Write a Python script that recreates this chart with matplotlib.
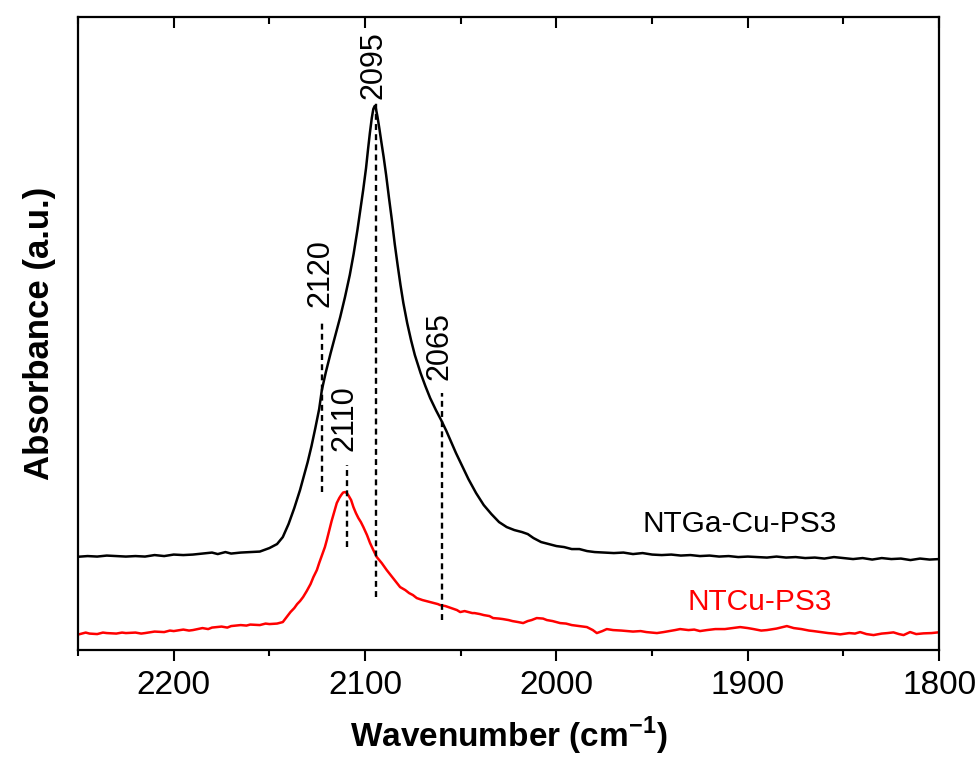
import matplotlib
matplotlib.use("Agg")
import matplotlib.pyplot as plt
from matplotlib.ticker import MultipleLocator

plt.rcParams['font.family'] = ['Liberation Sans', 'DejaVu Sans']

# NTGa-Cu-PS3 (black)
wn_black = [2250, 2245, 2240, 2235, 2230, 2225, 2220, 2215, 2210, 2205, 2200, 2195, 2190,
            2185, 2180, 2177, 2173, 2170, 2165, 2160, 2155, 2150, 2146, 2143, 2140, 2137,
            2134, 2130, 2128, 2126, 2124, 2122.6, 2120.5, 2118, 2115.5, 2113, 2110.5, 2108,
            2106, 2104, 2102.5, 2101, 2099.5, 2098.5, 2097.5, 2096.5, 2095.7, 2095, 2094.3,
            2093.5, 2092.5, 2091.5, 2090.3, 2089, 2087.5, 2086, 2084.5, 2083, 2081.5, 2080,
            2078, 2076, 2074, 2071, 2068.5, 2066, 2063, 2060, 2057.5, 2055, 2052.5, 2050,
            2046, 2042, 2038, 2034, 2030, 2026, 2022, 2018, 2015, 2012, 2008, 2004, 2000,
            1996, 1992, 1988, 1984, 1980, 1975, 1970, 1965, 1960, 1955, 1950, 1945, 1940,
            1935, 1930, 1925, 1920, 1915, 1910, 1905, 1900, 1895, 1890, 1885, 1880, 1875,
            1870, 1865, 1860, 1855, 1850, 1845, 1840, 1835, 1830, 1825, 1820, 1815, 1810,
            1805, 1800]
abs_black = [0.933, 0.94, 0.935, 0.945, 0.94, 0.935, 0.94, 0.935, 0.95, 0.94, 0.955, 0.95, 0.955,
             0.965, 0.975, 0.96, 0.98, 0.965, 0.975, 0.98, 0.985, 1.02, 1.06, 1.13, 1.26, 1.42,
             1.60, 1.88, 2.04, 2.22, 2.41, 2.60, 2.78, 2.97, 3.15, 3.33, 3.53, 3.75,
             3.96, 4.20, 4.40, 4.60, 4.82, 5.00, 5.17, 5.32, 5.41, 5.44, 5.41,
             5.33, 5.21, 5.08, 4.93, 4.75, 4.52, 4.30, 4.06, 3.85, 3.65, 3.47,
             3.27, 3.10, 2.95, 2.77, 2.64, 2.52, 2.40, 2.29, 2.19, 2.08, 1.97, 1.87,
             1.71, 1.57, 1.45, 1.36, 1.28, 1.23, 1.20, 1.18, 1.16, 1.12, 1.08, 1.06, 1.04,
             1.03, 1.01, 1.01, 0.99, 0.98, 0.975, 0.97, 0.975, 0.96, 0.97, 0.955, 0.95, 0.955,
             0.945, 0.95, 0.94, 0.945, 0.935, 0.94, 0.93, 0.935, 0.93, 0.925, 0.935, 0.925, 0.93,
             0.92, 0.925, 0.915, 0.93, 0.92, 0.91, 0.92, 0.905, 0.92, 0.91, 0.915, 0.90, 0.915,
             0.905, 0.91]

# NTCu-PS3 (red)
wn_red = [2249, 2246, 2244, 2240, 2237, 2235, 2230, 2227, 2225, 2220, 2217, 2215, 2210, 2205,
          2202, 2200, 2195, 2192, 2190, 2185, 2182, 2180, 2175, 2172, 2170, 2165, 2162, 2160,
          2155, 2152, 2150, 2146, 2144, 2143, 2141, 2139, 2137, 2135.5, 2134, 2132.4, 2130.5,
          2128.5, 2127, 2125.2, 2124, 2122.5, 2121, 2120, 2118.7, 2117.5, 2116, 2114.8, 2113.5,
          2112.5, 2111.5, 2110.5, 2109.5, 2108.5, 2107.3, 2106.1, 2104.8, 2103.5, 2102.2,
          2100.9, 2099, 2097.4, 2095.7, 2093.9, 2091.3, 2088.7, 2085, 2081.7, 2079, 2077, 2075,
          2073, 2070, 2068, 2066, 2064, 2062, 2060.8, 2058, 2055, 2052, 2050.3, 2048, 2046,
          2044, 2042.8, 2040, 2038, 2035, 2033.1, 2030, 2028, 2025, 2023, 2020, 2017.4, 2015,
          2013, 2010.3, 2007, 2005, 2002, 1998.1, 1995, 1992, 1988, 1984.1, 1981, 1978.9,
          1976, 1973.7, 1970.4, 1966, 1960, 1956, 1953, 1950, 1947.5, 1944, 1941, 1938, 1935.4,
          1931, 1928, 1925, 1921.4, 1917, 1912, 1908, 1904, 1900, 1897, 1893, 1890, 1885,
          1879.6, 1876, 1872, 1868, 1865.7, 1862, 1858, 1855, 1851.7, 1847, 1844, 1841.3,
          1838, 1834.3, 1830, 1827, 1823.9, 1821, 1818.6, 1815.2, 1812, 1808.2, 1804, 1800.5]
abs_red = [0.16, 0.175, 0.165, 0.16, 0.175, 0.17, 0.165, 0.175, 0.17, 0.175, 0.165, 0.17, 0.185,
           0.18, 0.195, 0.19, 0.205, 0.195, 0.20, 0.22, 0.21, 0.225, 0.235, 0.225, 0.24, 0.25,
           0.245, 0.255, 0.25, 0.265, 0.26, 0.265, 0.275, 0.28, 0.33, 0.38, 0.42, 0.46, 0.49,
           0.53, 0.59, 0.66, 0.73, 0.80, 0.87, 0.95, 1.03, 1.10, 1.20, 1.29, 1.39, 1.47, 1.52,
           1.55, 1.575, 1.58, 1.57, 1.54, 1.50, 1.43, 1.37, 1.32, 1.28,
           1.23, 1.15, 1.07, 1.00, 0.93, 0.87, 0.80, 0.71, 0.63, 0.60, 0.57, 0.55,
           0.52, 0.50, 0.49, 0.48, 0.47, 0.46, 0.45, 0.44, 0.42, 0.40, 0.38, 0.39, 0.38,
           0.37, 0.37, 0.36, 0.35, 0.34, 0.32, 0.315, 0.31, 0.30, 0.29, 0.28, 0.27, 0.29,
           0.30, 0.32, 0.315, 0.30, 0.29, 0.27, 0.265, 0.25, 0.24, 0.23, 0.20, 0.17,
           0.19, 0.21, 0.20, 0.195, 0.185, 0.19, 0.18, 0.175, 0.17, 0.18, 0.19, 0.20, 0.21,
           0.20, 0.205, 0.19, 0.20, 0.21, 0.21, 0.22, 0.23, 0.22, 0.21, 0.195, 0.20, 0.215,
           0.24, 0.22, 0.21, 0.195, 0.19, 0.18, 0.17, 0.165, 0.157, 0.17, 0.165, 0.18,
           0.16, 0.15, 0.165, 0.17, 0.177, 0.16, 0.15, 0.18, 0.16, 0.167, 0.17, 0.177]

# Peak markers: label, position, y-range of dashed line, label position
peak_labels = ["2120", "2095", "2110", "2065"]
peak_pos = [2122.5, 2094.5, 2109.5, 2060.0]
peak_ylo = [1.58, 0.53, 1.03, 0.30]
peak_yhi = [3.30, 5.47, 1.85, 2.57]
label_y = [3.77, 5.85, 2.32, 3.04]

fig = plt.figure(figsize=(9.78, 7.63), dpi=100)
ax = fig.add_axes([0.0798, 0.148, 0.8805, 0.8297])

ax.plot(wn_black, abs_black, color='black', lw=1.8)
ax.plot(wn_red, abs_red, color='#ff0000', lw=1.8)

for lab, x, lo, hi, ly in zip(peak_labels, peak_pos, peak_ylo, peak_yhi, label_y):
    ax.plot([x, x], [lo, hi], color='black', lw=1.7, linestyle=(0, (2.5, 1.8)))
    ax.text(x + 1.0, ly, lab, rotation=90, ha='center', va='center', fontsize=22)

ax.text(1904, 1.26, "NTGa-Cu-PS3", fontsize=21.5, ha='center', va='center', color='black')
ax.text(1893.5, 0.48, "NTCu-PS3", fontsize=21.5, ha='center', va='center', color='#ff0000')

ax.set_xlim(2250, 1800)
ax.set_ylim(0, 6.33)
ax.xaxis.set_major_locator(MultipleLocator(100))
ax.xaxis.set_minor_locator(MultipleLocator(50))
ax.set_yticks([])
ax.tick_params(axis='x', which='major', direction='out', length=8, width=1.5,
               labelsize=24, pad=6, top=True, bottom=True)
ax.tick_params(axis='x', which='minor', direction='out', length=4, width=1.5,
               top=True, bottom=True)
# top ticks point inward
for t in ax.xaxis.get_major_ticks():
    t.tick2line.set_markersize(8)
    t.tick2line.set_marker(3)  # TICKDOWN
for t in ax.xaxis.get_minor_ticks():
    t.tick2line.set_markersize(5)
    t.tick2line.set_marker(3)

for s in ax.spines.values():
    s.set_linewidth(1.6)

ax.set_xlabel("Wavenumber (cm$^{\\mathregular{-1}}$)", fontsize=24, fontweight='bold', labelpad=10)
ax.set_ylabel("Absorbance (a.u.)", fontsize=25, fontweight='bold', labelpad=16)

fig.savefig("out.png", dpi=100)
